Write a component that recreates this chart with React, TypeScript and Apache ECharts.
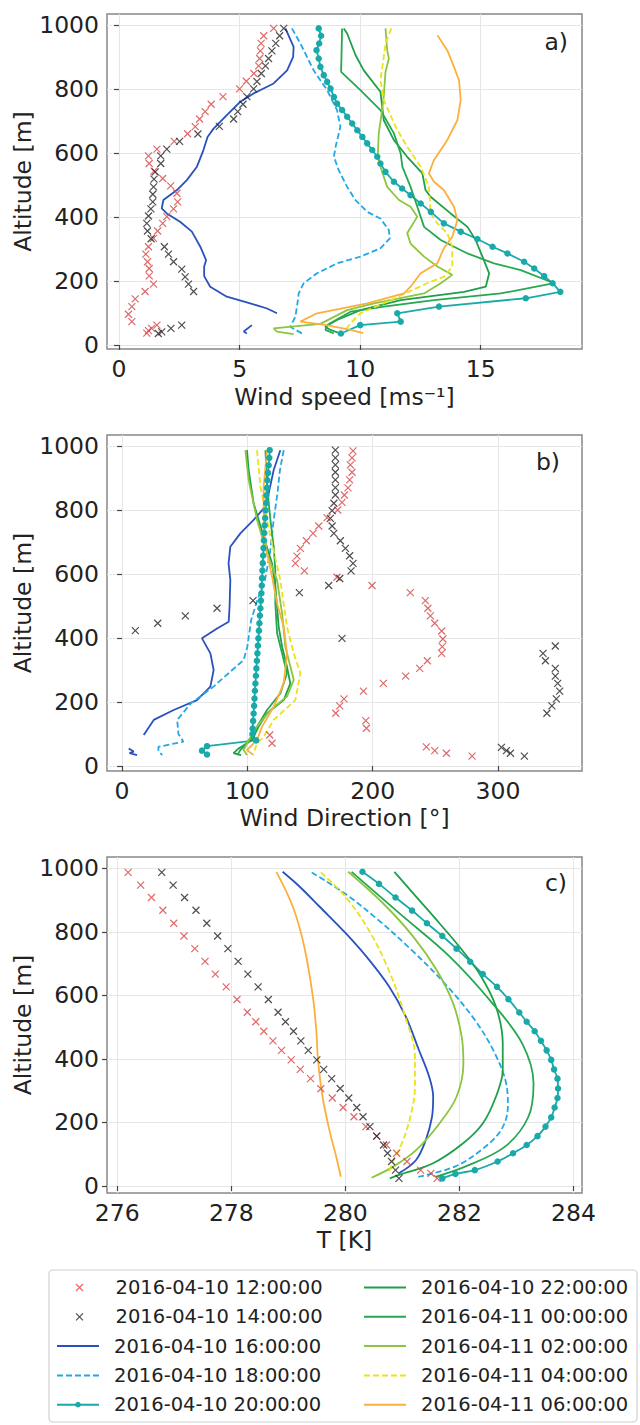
import React, { useEffect, useRef } from 'react';
import * as echarts from 'echarts';

const SERIES_NAMES = [
  '2016-04-10 12:00:00', '2016-04-10 14:00:00', '2016-04-10 16:00:00', '2016-04-10 18:00:00', '2016-04-10 20:00:00',
  '2016-04-10 22:00:00', '2016-04-11 00:00:00', '2016-04-11 02:00:00', '2016-04-11 04:00:00', '2016-04-11 06:00:00',
];
const COLORS = ['#d64545', '#222222', '#2a52be', '#21a8e6', '#1aa9a9', '#1ea04a', '#25a850', '#8cc53f', '#ebe21a', '#fbb03b'];
const DASHED = [false, false, false, true, false, false, false, false, true, false];
const GAP = [NaN, NaN];

// ---------- Panel a: wind speed [m/s] vs altitude [m] ----------
const speed1200 = [[6.41,989],[6.0,966],[5.89,942],[5.86,919],[5.83,895],[5.79,872],[5.59,848],[5.28,824],[5.0,800],[4.31,776],[3.82,752],[3.57,729],[3.34,706],[3.16,682],[2.84,660],[2.29,636],[1.57,612],[1.22,591],[1.25,567],[1.45,543],[1.81,520],[2.14,497],[2.4,474],[2.43,447],[2.26,425],[1.98,401],[1.81,380],[1.6,356],[1.43,333],[1.22,307],[1.11,284],[1.18,260],[1.25,239],[1.25,216],[1.43,190],[1.08,167],[0.67,144],[0.53,120],[0.39,96],[0.53,73],[1.57,62],[1.35,52],[1.22,45],[1.15,37]];
const speed1400 = [[6.83,989],[6.66,966],[6.5,942],[6.34,919],[6.2,895],[6.07,872],[5.9,848],[5.72,823],[5.58,800],[5.3,776],[5.14,752],[4.92,729],[4.75,706],[4.16,683],[3.27,659],[2.51,636],[1.98,612],[1.73,591],[1.73,567],[1.5,541],[1.45,518],[1.43,494],[1.4,471],[1.4,447],[1.32,425],[1.22,403],[1.15,380],[1.18,356],[1.33,332],[1.88,307],[2.05,284],[2.26,260],[2.6,237],[2.74,213],[2.88,190],[3.09,167],[2.6,62],[2.15,52],[1.77,41],[1.63,36]];
const speed1600 = [[6.9,989],[7.24,931],[7.22,900],[6.97,858],[6.41,817],[5.58,786],[5.03,760],[4.47,718],[3.92,676],[3.67,650],[3.5,609],[3.23,557],[2.81,515],[2.4,484],[1.84,453],[1.77,427],[1.98,411],[2.53,385],[3.02,354],[3.37,307],[3.61,265],[3.53,245],[3.53,215],[3.78,182],[4.47,151],[5.44,130],[6.14,114],[6.55,99],GAP,[5.51,62],[5.17,42],[5.3,36]];
const speed1800 = [[7.17,989],[7.52,942],[8.07,858],[8.63,796],[9.04,734],[9.18,682],[8.98,619],[8.91,588],[9.11,546],[9.46,494],[9.8,453],[10.29,416],[10.84,395],[11.19,359],[11.23,333],[10.84,302],[10.01,276],[9.04,255],[8.21,224],[7.66,193],[7.45,161],[7.38,120],[7.31,88],[7.1,57],[7.59,36]];
const speed2000 = [[8.28,989],[8.38,966],[8.3,942],[8.19,921],[8.28,895],[8.35,869],[8.49,843],[8.63,822],[8.77,801],[8.91,775],[9.04,754],[9.25,734],[9.46,713],[9.67,692],[9.88,671],[10.09,650],[10.29,630],[10.5,609],[10.71,588],[10.84,567],[11.05,541],[11.4,510],[11.74,489],[12.09,468],[12.51,442],[12.93,416],[13.47,380],[14.17,354],[14.86,331],[15.49,307],[16.11,286],[16.8,260],[17.22,239],[17.63,215],[17.98,193],[18.3,166],[16.87,146],[13.27,120],[11.54,99],[11.68,73],[10.0,62],[9.2,36]];
const speed2200 = [[9.32,989],[9.46,973],[9.81,905],[10.15,858],[10.84,791],[10.98,702],[11.4,640],[11.95,588],[12.58,536],[12.71,484],[12.92,463],[13.75,411],[14.45,369],[14.79,328],[15.07,276],[15.35,224],[15.21,182],[14.31,166],[11.68,140],[10.01,109],[9.04,78],[8.55,57],[8.77,47],[9.18,36]];
const speed0000 = [[9.25,989],[9.21,853],[10.01,796],[10.84,734],[11.4,661],[11.68,598],[11.75,557],[12.09,494],[12.37,432],[12.65,369],[13.34,328],[14.45,286],[15.55,255],[16.66,234],[18.05,193],[15.83,161],[13.06,140],[10.98,120],[9.6,104],[8.63,62],[8.56,47],[8.91,36]];
const speed0200 = [[11.05,989],[11.12,921],[11.19,895],[11.05,853],[10.98,780],[10.91,734],[10.77,661],[10.73,588],[10.84,557],[11.12,494],[11.61,453],[12.09,432],[12.37,401],[11.95,349],[12.09,317],[12.65,276],[13.2,245],[13.82,219],[13.34,193],[12.65,161],[10.57,130],[9.46,109],[8.35,66],[6.41,52],[6.55,42],[7.24,34]];
const speed0400 = [[11.29,989],[11.05,942],[10.96,890],[10.84,827],[10.98,765],[11.47,682],[11.95,619],[12.51,557],[12.85,494],[12.92,411],[13.2,380],[13.61,349],[13.82,307],[13.82,245],[13.47,213],[12.78,193],[11.26,140],[10.01,99],[9.6,68],[9.45,53],[9.24,37]];
const speed0600 = [[13.2,968],[13.61,921],[13.89,869],[14.1,827],[14.17,765],[14.03,702],[13.61,640],[13.06,578],[12.85,536],[13.06,510],[13.47,484],[13.89,432],[14.03,390],[13.82,338],[13.47,302],[13.2,255],[12.51,224],[12.09,182],[11.82,161],[10.29,130],[8.21,99],[7.52,73],[8.6,62],[9.6,47],[10.12,37]];

// ---------- Panel b: wind direction [deg] vs altitude [m] ----------
const dir1200 = [[184.3,985],[183.5,963],[182.2,941],[183.5,918],[181.6,894],[180.3,869],[177.4,847],[175.5,824],[172.1,800],[163.6,776],[157,750],[152.4,727],[147.1,704],[142.3,680],[139.6,656],[138.3,633],[145.5,610],[171.5,590],[199.5,564],[230,542],[242,517],[244,493],[246,469],[249.5,446],[255,422],[256,397],[255.5,373],[255,352],[243.6,329],[237.5,305],[226.3,281],[208.5,258],[192.6,234],[177.1,210],[173.7,188],[170.5,165],[194.5,142],[195,118],[117.8,97],[119.7,71],[242.8,60],[249.5,48],[258.8,40],[279.3,31]];
const dir1400 = [[170.2,987],[170.2,963],[170.2,941],[170.2,918],[170.2,894],[170.2,870],[170.2,847],[169,821],[167.6,798],[166.2,774],[167.6,750],[169,727],[174.2,704],[178.2,680],[181.6,657],[184.3,633],[182.7,610],[173.7,586],[164.9,564],[141.5,542],[104.5,517],[75.8,493],[50.5,469],[28.5,446],[10.6,423],[175.5,399],[345.7,375],[335.9,352],[337.8,329],[345.7,305],[345.7,281],[347.6,258],[349.2,234],[346.5,210],[343,188],[339,165],[302.7,58],[306.7,48],[309.9,40],[321,31]];
const dir1600 = [[126.3,987],[121,925],[117,852],[113,805],[105,769],[94.4,727],[86.4,685],[85,633],[86.4,581],[85.8,498],[85.1,451],[75.8,430],[63.8,399],[70.5,352],[73.1,300],[70.5,248],[59.8,206],[41.2,175],[25.3,144],[17.3,97],GAP,[5.3,55],[9.3,45],[6,40],[12,34]];
const dir1800 = [[129,987],[126,925],[124,852],[121,769],[118,665],[114,581],[108,519],[103,456],[100,373],[97,331],[85,290],[73,248],[55,196],[44,144],[45,100],[49,76],[29,60],[29,48],[32,34]];
const dir2000 = [[117.8,987],[117.5,963],[117,940],[116.5,916],[116,893],[115.7,869],[115.2,846],[115,822],[114.5,799],[114.2,775],[113.8,752],[113.5,728],[113.2,705],[112.9,681],[112.6,658],[112.3,634],[112,611],[111.7,587],[111.5,564],[111.2,540],[110.8,517],[110.4,493],[110,470],[109.6,446],[109.2,423],[108.8,399],[108.4,376],[108,352],[107.6,329],[107.2,305],[106.8,282],[106.4,258],[106,235],[105.7,211],[105.4,188],[105,164],[104.6,141],[104.2,117],[104,100],[107,80],[67.8,62],[63.8,48],[67.8,36]];
const dir2200 = [[99.7,987],[101,925],[105,821],[113,717],[119.7,633],[122.3,560],[123.7,498],[125,435],[127.7,373],[131.6,310],[134.3,258],[129,206],[115.7,165],[109,123],[103.7,81],[93,55],[89,40],[95,34]];
const dir0000 = [[114.4,987],[115.7,873],[118.4,769],[121,685],[122.3,612],[122.3,508],[123.7,415],[127.7,352],[131.6,290],[126.3,227],[115.7,175],[107.7,123],[102.4,81],[94.4,50],[91.8,34]];
const dir0200 = [[98.4,987],[101,894],[107.7,769],[115.7,665],[123.7,581],[127.7,477],[130.3,373],[137,269],[131.6,217],[118.4,175],[107.7,123],[101,81],[97,50],[99.7,34]];
const dir0400 = [[107.7,987],[110.4,873],[118.4,717],[126.3,581],[131.6,435],[137,352],[142.3,290],[138.3,206],[121,144],[113,92],[107.7,71],[105,40]];
const dir0600 = [[115.7,987],[113,873],[113,737],[115.7,665],[119.7,592],[123.7,508],[129,435],[131.6,352],[129,258],[121,185],[111.7,123],[107.7,81],[99.7,50],[105,34]];

// ---------- Panel c: temperature [K] vs altitude [m] ----------
const temp1200 = [[276.19,987],[276.41,947],[276.6,908],[276.8,868],[276.99,827],[277.17,787],[277.36,747],[277.54,707],[277.72,667],[277.91,627],[278.1,587],[278.28,547],[278.43,517],[278.57,487],[278.73,457],[278.88,427],[279.05,397],[279.21,367],[279.39,338],[279.57,306],[279.77,277],[279.96,247],[280.15,218],[280.36,187],[280.55,157],[280.72,129],[280.9,103],[281.08,77],[281.32,50],[281.5,40],[281.61,24]];
const temp1400 = [[276.78,987],[276.98,947],[277.18,908],[277.38,868],[277.57,827],[277.76,787],[277.94,747],[278.12,707],[278.29,667],[278.47,627],[278.65,587],[278.82,547],[278.95,517],[279.09,487],[279.22,457],[279.35,427],[279.5,397],[279.62,367],[279.76,338],[279.91,307],[280.06,277],[280.2,247],[280.31,218],[280.43,187],[280.55,157],[280.67,129],[280.74,103],[280.81,77],[280.88,50],[280.94,24]];
const temp1600 = [[278.9,989],[279.2,942],[279.55,879],[280.01,795],[280.42,711],[280.77,627],[281.06,533],[281.29,428],[281.47,344],[281.54,281],[281.52,218],[281.41,145],[281.24,82],[280.94,40]];
const temp1800 = [[279.41,987],[279.99,921],[280.58,837],[281.16,743],[281.74,638],[282.27,523],[282.62,418],[282.82,323],[282.85,250],[282.73,176],[282.38,113],[281.92,61],[281.28,29]];
const temp2000 = [[280.3,989],[280.59,951],[280.88,908],[281.17,867],[281.43,827],[281.7,787],[281.95,747],[282.19,706],[282.41,667],[282.66,627],[282.86,588],[283.05,546],[283.18,517],[283.32,487],[283.43,457],[283.53,427],[283.61,397],[283.66,367],[283.72,338],[283.73,307],[283.72,277],[283.67,247],[283.61,216],[283.51,187],[283.37,157],[283.18,129],[282.94,103],[282.67,77],[282.27,50],[281.93,38],[281.7,24]];
const temp2200 = [[280.86,989],[281.24,911],[281.65,827],[282.0,753],[282.35,669],[282.64,565],[282.76,449],[282.76,365],[282.64,281],[282.41,197],[282.06,134],[281.53,71],[280.94,35],[280.78,24]];
const temp0000 = [[280.11,989],[280.95,858],[281.83,722],[282.58,575],[283.1,449],[283.3,323],[283.21,218],[282.8,124],[282.1,61],[281.58,29]];
const temp0200 = [[280.05,989],[280.66,890],[281.19,785],[281.6,680],[281.89,575],[282.04,470],[282.07,386],[281.95,281],[281.65,197],[281.24,113],[280.84,61],[280.46,26]];
const temp0400 = [[279.57,987],[280.0,911],[280.41,806],[280.76,680],[281.05,533],[281.22,407],[281.22,313],[281.14,218],[280.99,134],[280.82,71],[280.76,40]];
const temp0600 = [[278.79,989],[279.08,879],[279.28,753],[279.43,596],[279.49,491],[279.52,397],[279.6,281],[279.72,176],[279.84,92],[279.92,29]];

const PANEL_A = [speed1200, speed1400, speed1600, speed1800, speed2000, speed2200, speed0000, speed0200, speed0400, speed0600];
const PANEL_B = [dir1200, dir1400, dir1600, dir1800, dir2000, dir2200, dir0000, dir0200, dir0400, dir0600];
const PANEL_C = [temp1200, temp1400, temp1600, temp1800, temp2000, temp2200, temp0000, temp0200, temp0400, temp0600];

const ALT_TICKS = [0, 200, 400, 600, 800, 1000];
const SPEED_TICKS = [0, 5, 10, 15];
const DIR_TICKS = [0, 100, 200, 300];
const TEMP_TICKS = [276, 278, 280, 282, 284];

const FONT = 'DejaVu Sans';
const X_SYMBOL = 'path://M0,0L10,10M10,0L0,10';

function buildSeries(panel: number, sets: any[]) {
  return sets.map((data: any, i: number) => {
    const color = COLORS[i];
    const base: any = { name: SERIES_NAMES[i], xAxisIndex: panel, yAxisIndex: panel, data, silent: true, animation: false };
    if (i < 2) {
      return { ...base, type: 'scatter', symbol: X_SYMBOL, symbolSize: 7, z: 3,
        itemStyle: { color: 'none', borderColor: color, borderWidth: 1.2 } };
    }
    return { ...base, type: 'line', symbol: i === 4 ? 'circle' : 'none', showSymbol: i === 4, symbolSize: 6.5,
      smooth: panel === 2 ? 0.35 : false, connectNulls: false, z: 2,
      lineStyle: { color, width: 1.8, type: DASHED[i] ? [6, 3] : 'solid' },
      itemStyle: { color } };
  });
}

const GRIDS = [
  { left: 107, top: 14, width: 475, height: 335 },
  { left: 107, top: 435, width: 475, height: 336 },
  { left: 107, top: 857, width: 475, height: 336 },
];

const plain = (v: number) => String(v);

function xAxis(gridIndex: number, min: number, max: number, ticks: number[], name: string, gap: number, split: number) {
  return {
    type: 'value', gridIndex, min, max, splitNumber: split,
    name, nameLocation: 'middle', nameGap: gap, nameMoveOverlap: false,
    nameTextStyle: { fontSize: 23.5, color: '#222', fontFamily: FONT },
    axisLine: { show: false },
    axisTick: { show: true, length: 5, customValues: ticks, lineStyle: { color: '#444', width: 1.2 } },
    axisLabel: { customValues: ticks, formatter: plain, fontSize: 23.5, color: '#222', fontFamily: FONT, margin: 8,
      alignMinLabel: 'center', alignMaxLabel: 'center', hideOverlap: false },
    splitLine: { show: true, lineStyle: { color: '#e6e6e6', width: 1 } },
  };
}

function yAxis(gridIndex: number, min: number, max: number) {
  return {
    type: 'value', gridIndex, min, max, splitNumber: 5,
    name: 'Altitude [m]', nameLocation: 'middle', nameGap: 72, nameMoveOverlap: false,
    nameTextStyle: { fontSize: 23.5, color: '#222', fontFamily: FONT },
    axisLine: { show: false },
    axisTick: { show: true, length: 5, customValues: ALT_TICKS, lineStyle: { color: '#444', width: 1.2 } },
    axisLabel: { customValues: ALT_TICKS, formatter: plain, fontSize: 23.5, color: '#222', fontFamily: FONT, margin: 8 },
    splitLine: { show: true, lineStyle: { color: '#e6e6e6', width: 1 } },
  };
}

function legendItem(i: number) {
  if (i < 2) return { name: SERIES_NAMES[i], itemStyle: { borderWidth: 1.2 } };
  if (i === 4) return { name: SERIES_NAMES[i] };
  return { name: SERIES_NAMES[i], itemStyle: { opacity: 0 } };
}

// one legend component per entry, so that each row sits exactly where the reference has it
const ROW_CENTERS = [1287.5, 1316.8, 1346.1, 1375.4, 1404.7];
const ICON_W = 42;
const ICON_H = 7;
function legendRow(i: number) {
  const col = i < 5 ? 0 : 1;
  const row = i % 5;
  // a marker-only icon is narrower than the line icons, and the legend box starts at the marker
  const inset = i < 2 ? (ICON_W - ICON_H) / 2 : 0;
  return {
    left: (col === 0 ? 56 : 363) + inset, top: ROW_CENTERS[row] - 11, orient: 'vertical', padding: 0,
    itemWidth: ICON_W, itemHeight: ICON_H, selectedMode: false,
    data: [legendItem(i)],
    textStyle: { fontSize: 19.5, fontFamily: FONT, color: '#222', lineHeight: 22, padding: [0, 0, 0, 10] },
  };
}

export default function App() {
  const ref = useRef<HTMLDivElement>(null);
  useEffect(() => {
    if (!ref.current) return;
    const chart = echarts.init(ref.current, undefined, { renderer: 'svg' });
    chart.setOption({
      animation: false,
      backgroundColor: '#ffffff',
      textStyle: { fontFamily: FONT },
      grid: GRIDS.map((g) => ({ ...g, show: true, borderColor: '#888', borderWidth: 1.5, backgroundColor: 'transparent' })),
      xAxis: [
        xAxis(0, -0.5, 19.2, SPEED_TICKS, 'Wind speed [ms⁻¹]', 36, 4),
        xAxis(1, -12, 367, DIR_TICKS, 'Wind Direction [°]', 35, 5),
        xAxis(2, 275.82, 284.15, TEMP_TICKS, 'T [K]', 35, 5),
      ],
      yAxis: [yAxis(0, -12.5, 1034), yAxis(1, -15.6, 1034.4), yAxis(2, -22, 1035.6)],
      legend: SERIES_NAMES.map((_, i) => legendRow(i)),
      graphic: [
        { type: 'rect', z: 0, shape: { x: 49, y: 1270, width: 588, height: 152, r: 4 }, style: { fill: 'none', stroke: '#d0d0d0', lineWidth: 1.2 } },
        { type: 'text', x: 568, y: 42, style: { text: 'a)', fontSize: 23.5, fontFamily: FONT, fill: '#222', textAlign: 'right', textVerticalAlign: 'middle' } },
        { type: 'text', x: 560, y: 462, style: { text: 'b)', fontSize: 23.5, fontFamily: FONT, fill: '#222', textAlign: 'right', textVerticalAlign: 'middle' } },
        { type: 'text', x: 567, y: 883, style: { text: 'c)', fontSize: 23.5, fontFamily: FONT, fill: '#222', textAlign: 'right', textVerticalAlign: 'middle' } },
      ],
      series: [...buildSeries(0, PANEL_A), ...buildSeries(1, PANEL_B), ...buildSeries(2, PANEL_C)],
    });
    return () => chart.dispose();
  }, []);
  return <div ref={ref} style={{ position: 'absolute', left: 0, top: 0, width: 640, height: 1425 }} />;
}
